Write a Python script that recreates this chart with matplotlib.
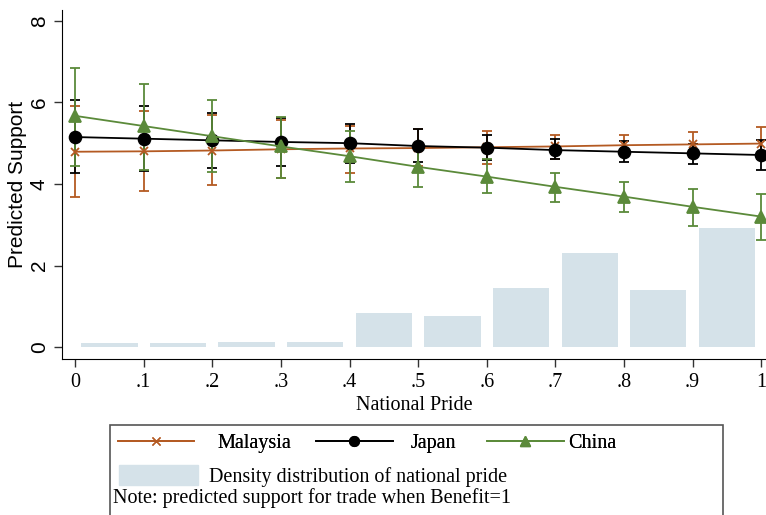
import numpy as np
import matplotlib.pyplot as plt
from matplotlib.patches import Rectangle, Patch
from matplotlib.lines import Line2D

# Datos
pride = [0, .1, .2, .3, .4, .5, .6, .7, .8, .9, 1]
tick_labels = ['0', '.1', '.2', '.3', '.4', '.5', '.6', '.7', '.8', '.9', '1']

malaysia = [4.79, 4.80, 4.82, 4.85, 4.87, 4.88, 4.90, 4.92, 4.95, 4.97, 4.99]
malaysia_lo = [3.67, 3.83, 3.98, 4.14, 4.28, 4.45, 4.50, 4.60, 4.70, 4.65, 4.60]
malaysia_hi = [5.92, 5.80, 5.70, 5.58, 5.43, 5.35, 5.30, 5.20, 5.20, 5.28, 5.39]

japan = [5.15, 5.11, 5.07, 5.03, 5.00, 4.93, 4.89, 4.83, 4.79, 4.75, 4.71]
japan_lo = [4.28, 4.33, 4.38, 4.45, 4.52, 4.55, 4.59, 4.60, 4.54, 4.50, 4.34]
japan_hi = [6.05, 5.90, 5.74, 5.62, 5.47, 5.34, 5.20, 5.10, 5.06, 4.98, 5.08]

china = [5.67, 5.42, 5.17, 4.92, 4.68, 4.42, 4.18, 3.93, 3.69, 3.44, 3.20]
china_lo = [4.45, 4.35, 4.30, 4.15, 4.05, 3.93, 3.77, 3.57, 3.31, 2.97, 2.63]
china_hi = [6.85, 6.46, 6.06, 5.65, 5.30, 4.93, 4.60, 4.28, 4.05, 3.88, 3.75]

# Distribucion de densidad del orgullo nacional
dens_centros = [.05, .15, .25, .35, .45, .55, .65, .75, .85, .95]
densidad = [0.10, 0.10, 0.12, 0.12, 0.83, 0.76, 1.45, 2.31, 1.40, 2.92]

c_mal = '#b45a22'
c_jap = '#000000'
c_chi = '#5b8a3a'
c_bar = '#d5e2e9'

serif = 'Liberation Serif'
sans = 'Liberation Sans'
fs = 14.5

fig = plt.figure(figsize=(7.66, 5.15), dpi=100)
ax = fig.add_axes([0.081, 0.303, 0.919, 0.678])

ax.bar(dens_centros, densidad, width=0.082, color=c_bar, zorder=1)

def serie(y, lo, hi, color, marker, ms, mfc):
    y = np.array(y)
    err = [y - np.array(lo), np.array(hi) - y]
    ax.errorbar(pride, y, yerr=err, color=color, lw=1.3, elinewidth=1.3,
                capsize=3.8, capthick=1.3, marker=marker, ms=ms,
                mfc=mfc, mec=color, mew=1.3, zorder=3)

serie(malaysia, malaysia_lo, malaysia_hi, c_mal, 'x', 6, c_mal)
serie(japan, japan_lo, japan_hi, c_jap, 'o', 8.5, c_jap)
serie(china, china_lo, china_hi, c_chi, '^', 8, c_chi)

ax.set_xlim(-0.019, 1.007)
ax.set_ylim(-0.29, 8.27)
ax.set_xticks(pride)
ax.set_xticklabels(tick_labels, family=serif, fontsize=fs)
ax.set_yticks([0, 2, 4, 6, 8])
ax.set_yticklabels(['0', '2', '4', '6', '8'], family=sans,
                   fontsize=15, rotation=90, va='center')
ax.tick_params(length=6, width=1, color='#333333')
ax.tick_params(axis='x', pad=4)
ax.spines['top'].set_visible(False)
ax.spines['right'].set_visible(False)
ax.set_xlabel('National Pride', family=serif, fontsize=fs, labelpad=3)
ax.set_ylabel('Predicted Support', family=sans, fontsize=15, labelpad=2)

# Cuadro de leyenda debajo del grafico
fig.add_artist(Rectangle((0.1436, -0.01), 0.800, 0.1848, transform=fig.transFigure,
                         fill=False, ec='#555555', lw=1.2))

prop = {'family': serif, 'size': fs}
entradas = [
    (Line2D([], [], color=c_mal, marker='x', ms=6, lw=1.3), 'Malaysia', 0.154, 1.15),
    (Line2D([], [], color=c_jap, marker='o', ms=7, lw=1.3), 'Japan', 0.4125, 0.9),
    (Line2D([], [], color=c_chi, marker='^', ms=7, lw=1.3), 'China', 0.6358, 0.25),
]
for handle, texto, x0, pad in entradas:
    leg = fig.legend([handle], [texto], loc='center left', bbox_to_anchor=(x0, 0.1398),
                     frameon=False, borderpad=0, borderaxespad=0, numpoints=1,
                     handlelength=3.8, handletextpad=pad, prop=prop)
    fig.add_artist(leg)

fig.legend([Patch(color=c_bar)], ['Density distribution of national pride'],
           loc='center left', bbox_to_anchor=(0.1553, 0.0757), frameon=False,
           borderpad=0, borderaxespad=0, handlelength=3.9, handleheight=1.1,
           handletextpad=0.55, prop=prop)
fig.text(0.1475, 0.033, 'Note: predicted support for trade when Benefit=1',
         family=serif, fontsize=fs, va='center')

plt.savefig('out.png', dpi=100)
